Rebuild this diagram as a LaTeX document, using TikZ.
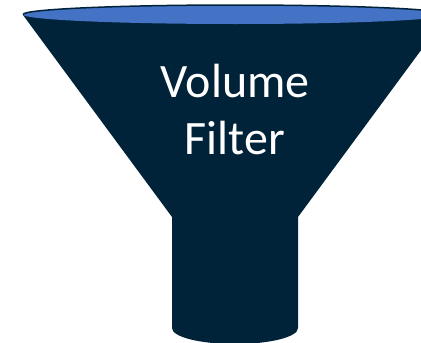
\documentclass[tikz,border=0pt]{standalone}
\usepackage{fontspec}
\setmainfont{Carlito}
\definecolor{funneldark}{HTML}{002339}
\definecolor{funnelblue}{HTML}{4472C4}
\begin{document}
\begin{tikzpicture}[x=1pt,y=-1pt,body/.style={fill=funneldark,draw=none},rim/.style={fill=funnelblue,draw=none},rimline/.style={draw=funneldark,line width=1.5pt},label/.style={text=white,align=center,font=\fontsize{48}{57}\selectfont}]
\useasboundingbox (0,0) rectangle (421,343);
\clip (0,0) rectangle (421,343);
\fill[body] (23,15)--(172,217)--(172,328) .. controls (172,337) and (200,344) .. (235,344) .. controls (270,344) and (298,337) .. (298,328)--(298,217)--(447,15)--cycle;
\fill[rim] (235,14.5) ellipse (212 and 9.5);
\draw[rimline] (23,14.5) arc (180:360:212 and 9.5);
\node[label] (filter) at (235,110) {Volume\\Filter};
\end{tikzpicture}
\end{document}
